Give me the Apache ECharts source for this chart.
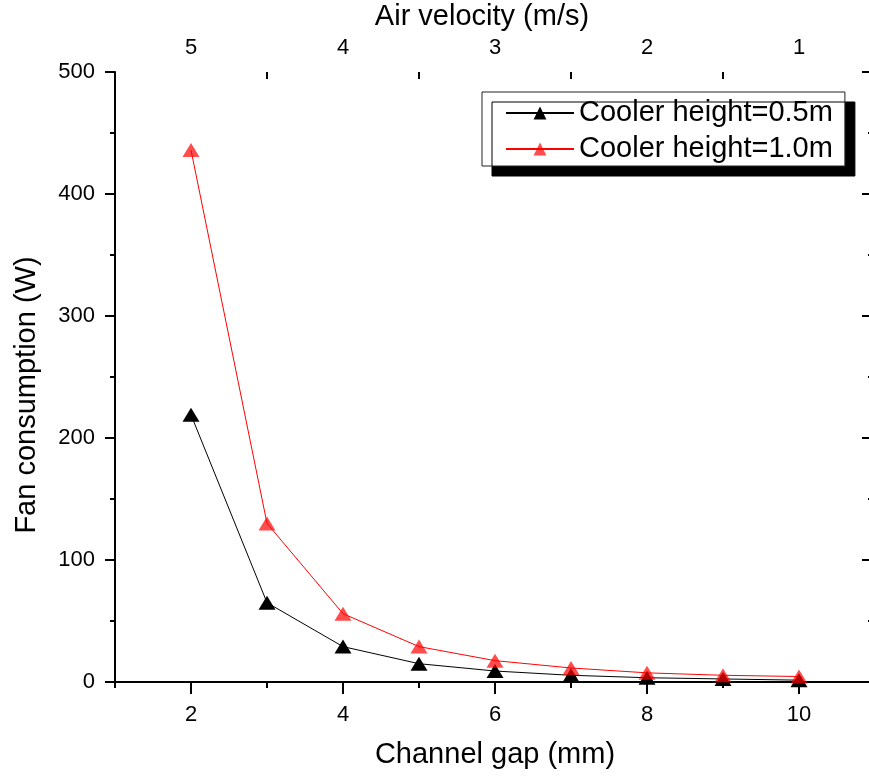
<!DOCTYPE html>
<html><head><meta charset="utf-8">
<script src="https://cdn.jsdelivr.net/npm/echarts@6/dist/echarts.min.js"></script>
<style>html,body{margin:0;padding:0;background:#fff}#c{width:869px;height:778px}</style>
</head><body><div id="c"></div>
<script>
const channelGap = [2, 3, 4, 5, 6, 7, 8, 9, 10];
const fan05 = [219, 65, 29, 15, 9, 5.5, 3.5, 2.5, 1.5];
const fan10 = [436, 130, 56, 29, 17.5, 11.5, 7.5, 5.5, 4.5];
const bottomLabels = [2, 4, 6, 8, 10];
const bottomMinorTicks = [1, 3, 5, 7, 9, 11];
const topLabels = [1, 2, 3, 4, 5];
const topMinorTicks = [0.5, 1.5, 2.5, 3.5, 4.5, 5.5];
const rightMinorTicks = [50, 150, 250, 350, 450];

const FONT = 'Liberation Sans, Arial, sans-serif';
const axisLine = { show: true, lineStyle: { color: '#000', width: 2 } };
const tickLine = { color: '#000', width: 2 };

const chart = echarts.init(document.getElementById('c'), null, { renderer: 'canvas' });
chart.setOption({
  animation: false,
  textStyle: { fontFamily: FONT, color: '#000' },
  grid: { left: 115, top: 72, width: 760, height: 610, outerBoundsMode: 'none', containLabel: false },
  legend: {
    orient: 'vertical', left: 482, top: 92,
    padding: [6, 12, 2, 23], itemWidth: 68, itemHeight: 16, itemGap: 6,
    backgroundColor: '#fff', borderColor: '#222', borderWidth: 1,
    shadowColor: '#000', shadowOffsetX: 10, shadowOffsetY: 10, shadowBlur: 0,
    textStyle: { fontSize: 29, color: '#000', fontFamily: FONT, lineHeight: 30 }
  },
  xAxis: [
    {
      type: 'value', position: 'bottom', min: 1, max: 11,
      axisLine: axisLine,
      axisTick: { show: true, customValues: bottomLabels, length: 12, inside: false, lineStyle: tickLine },
      axisLabel: { customValues: bottomLabels, margin: 33, verticalAlign: 'middle', fontSize: 22, color: '#000', fontFamily: FONT },
      splitLine: { show: false },
      name: 'Channel gap (mm)', nameLocation: 'middle', nameGap: 73,
      nameTextStyle: { fontSize: 29, verticalAlign: 'middle', color: '#000', fontFamily: FONT }
    },
    {
      type: 'value', position: 'bottom', min: 1, max: 11,
      axisLine: { show: false },
      axisTick: { show: true, customValues: bottomMinorTicks, length: 6, inside: false, lineStyle: tickLine },
      axisLabel: { show: false }, splitLine: { show: false }
    },
    {
      type: 'value', position: 'top', min: 0.5, max: 5.5, inverse: true,
      axisLine: axisLine,
      axisTick: { show: true, customValues: topLabels, length: 12, inside: true, lineStyle: tickLine },
      axisLabel: { customValues: topLabels, margin: 24, verticalAlign: 'middle', fontSize: 22, color: '#000', fontFamily: FONT },
      splitLine: { show: false },
      name: 'Air velocity (m/s)', nameLocation: 'middle', nameGap: 55,
      nameTextStyle: { fontSize: 29, verticalAlign: 'middle', color: '#000', fontFamily: FONT, padding: [0, 26, 0, 0] }
    },
    {
      type: 'value', position: 'top', min: 0.5, max: 5.5, inverse: true,
      axisLine: { show: false },
      axisTick: { show: true, customValues: topMinorTicks, length: 7, inside: true, lineStyle: tickLine },
      axisLabel: { show: false }, splitLine: { show: false }
    }
  ],
  yAxis: [
    {
      type: 'value', position: 'left', min: 0, max: 500, interval: 100,
      axisLine: axisLine,
      axisTick: { show: true, length: 10, inside: false, lineStyle: tickLine },
      minorTick: { show: true, splitNumber: 2, length: 5, lineStyle: tickLine },
      axisLabel: { margin: 20, fontSize: 22, color: '#000', fontFamily: FONT },
      splitLine: { show: false }, minorSplitLine: { show: false },
      name: 'Fan consumption (W)', nameLocation: 'middle', nameGap: 88,
      nameTextStyle: { fontSize: 29, verticalAlign: 'middle', color: '#000', fontFamily: FONT, padding: [0, 36, 0, 0] }
    },
    {
      type: 'value', position: 'right', min: 0, max: 500, interval: 100,
      axisLine: axisLine,
      axisTick: { show: true, length: 13, inside: true, lineStyle: tickLine },
      axisLabel: { show: false }, splitLine: { show: false }
    },
    {
      type: 'value', position: 'right', min: 0, max: 500, interval: 100,
      axisLine: { show: false },
      axisTick: { show: true, customValues: rightMinorTicks, length: 7, inside: true, lineStyle: tickLine },
      axisLabel: { show: false }, splitLine: { show: false }
    }
  ],
  series: [
    {
      name: 'Cooler height=0.5m', type: 'line', xAxisIndex: 0, yAxisIndex: 0,
      data: channelGap.map((g, i) => [g, fan05[i]]),
      symbol: 'triangle', symbolSize: [17, 14],
      lineStyle: { color: '#000', width: 1 },
      itemStyle: { color: '#000' },
      emphasis: { disabled: true }
    },
    {
      name: 'Cooler height=1.0m', type: 'line', xAxisIndex: 0, yAxisIndex: 0,
      data: channelGap.map((g, i) => [g, fan10[i]]),
      symbol: 'triangle', symbolSize: [17, 14],
      lineStyle: { color: '#ff0000', width: 1 },
      itemStyle: { color: 'rgba(255,0,0,0.7)' },
      emphasis: { disabled: true }
    }
  ]
});
</script>
</body></html>
